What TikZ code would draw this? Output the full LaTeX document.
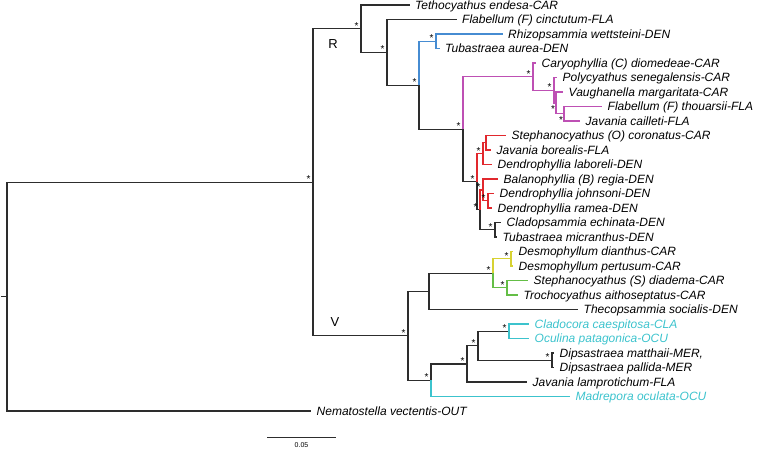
\documentclass[tikz,border=0pt]{standalone}
\usepackage{fontspec}
\setmainfont{Liberation Sans}
\usepackage{tikz}

\definecolor{cDark}{RGB}{45,45,45}
\definecolor{cBlue}{RGB}{70,140,210}
\definecolor{cMag}{RGB}{190,80,180}
\definecolor{cRed}{RGB}{225,40,45}
\definecolor{cYel}{RGB}{215,210,50}
\definecolor{cGrn}{RGB}{100,190,70}
\definecolor{cCyan}{RGB}{60,195,205}

\begin{document}
\begin{tikzpicture}[%
      x=1pt, y=-1pt,
      brk/.style={line width=1.3pt, color=cDark},
      brb/.style={brk, color=cBlue},
      brm/.style={brk, color=cMag},
      brr/.style={brk, color=cRed},
      bry/.style={brk, color=cYel},
      brg/.style={brk, color=cGrn},
      brc/.style={brk, color=cCyan},
      tip/.style={anchor=west, inner xsep=5.5pt, inner ysep=0pt, text height=8.6pt,
        text depth=0pt, font=\fontsize{12}{14}\selectfont\itshape},
      bs/.style={inner sep=0pt, font=\fontsize{10}{10}\selectfont, xshift=-4.5pt, yshift=2.9pt},
      bsb/.style={bs, xshift=1.5pt, yshift=-9.5pt},
      clade/.style={inner sep=0pt, font=\fontsize{13}{13}\selectfont},
      ]
      \useasboundingbox (0,0) rectangle (761,449);

      % tips
      \node[tip] (t1) at (409.5,5) {Tethocyathus endesa-CAR};
      \node[tip] (t2) at (456.5,19.5) {Flabellum (F) cinctutum-FLA};
      \node[tip] (t3) at (502.5,34) {Rhizopsammia wettsteini-DEN};
      \node[tip] (t4) at (439.5,48.5) {Tubastraea aurea-DEN};
      \node[tip] (t5) at (536,63) {Caryophyllia (C) diomedeae-CAR};
      \node[tip] (t6) at (557,77.5) {Polycyathus senegalensis-CAR};
      \node[tip] (t7) at (563,92) {Vaughanella margaritata-CAR};
      \node[tip] (t8) at (602,106.5) {Flabellum (F) thouarsii-FLA};
      \node[tip] (t9) at (580,121) {Javania cailleti-FLA};
      \node[tip] (t10) at (506,135.5) {Stephanocyathus (O) coronatus-CAR};
      \node[tip] (t11) at (491,150) {Javania borealis-FLA};
      \node[tip] (t12) at (492,164.5) {Dendrophyllia laboreli-DEN};
      \node[tip] (t13) at (498,179) {Balanophyllia (B) regia-DEN};
      \node[tip] (t14) at (494,193.5) {Dendrophyllia johnsoni-DEN};
      \node[tip] (t15) at (492,208) {Dendrophyllia ramea-DEN};
      \node[tip] (t16) at (501,222.5) {Cladopsammia echinata-DEN};
      \node[tip] (t17) at (497,237) {Tubastraea micranthus-DEN};
      \node[tip] (t18) at (513,251.5) {Desmophyllum dianthus-CAR};
      \node[tip] (t19) at (513,266) {Desmophyllum pertusum-CAR};
      \node[tip] (t20) at (528,280.5) {Stephanocyathus (S) diadema-CAR};
      \node[tip] (t21) at (518,295) {Trochocyathus aithoseptatus-CAR};
      \node[tip] (t22) at (578,309.5) {Thecopsammia socialis-DEN};
      \node[tip, text=cCyan] (t23) at (529,324) {Cladocora caespitosa-CLA};
      \node[tip, text=cCyan] (t24) at (529,338.5) {Oculina patagonica-OCU};
      \node[tip] (t25) at (554,353) {Dipsastraea matthaii-MER,};
      \node[tip] (t26) at (554,367.5) {Dipsastraea pallida-MER};
      \node[tip] (t27) at (527,382) {Javania lamprotichum-FLA};
      \node[tip, text=cCyan] (t28) at (570,396.5) {Madrepora oculata-OCU};
      \node[tip] (t29) at (311,411) {Nematostella vectentis-OUT};

      % internal nodes
      \coordinate (nRoot) at (7,296.6);
      \coordinate (nTick) at (1,296.6);
      \coordinate (nI) at (313,182.3);
      \coordinate (nR) at (361,28.7);
      \coordinate (nJ) at (387,52.3);
      \coordinate (nK) at (419,85.2);
      \coordinate (nBl) at (436,41.25);
      \coordinate (nL) at (463,129.2);
      \coordinate (nM) at (533,76.6);
      \coordinate (nP1) at (554,90.2);
      \coordinate (nP2) at (556,102.9);
      \coordinate (nP3) at (564,113.75);
      \coordinate (nN) at (477,181.7);
      \coordinate (nR2) at (483,153.6);
      \coordinate (nR1) at (486,142.75);
      \coordinate (nP) at (480,209.8);
      \coordinate (nR4) at (483,189.9);
      \coordinate (nR3) at (488,200.75);
      \coordinate (nQ) at (495,229.75);
      \coordinate (nV) at (408,335.8);
      \coordinate (nA) at (429,291.4);
      \coordinate (nB) at (493,273.25);
      \coordinate (nY) at (511,258.75);
      \coordinate (nG) at (507,287.75);
      \coordinate (nC) at (431,380.2);
      \coordinate (nD) at (467,363.9);
      \coordinate (nE) at (478,345.75);
      \coordinate (nF) at (509,331.25);
      \coordinate (nDp) at (552,360.25);

      % branches
      \draw[brk] (nTick) -- (nRoot);
      \draw[brk] (nRoot) |- (nI);
      \draw[brk] (nRoot) |- (t29.west);
      \draw[brk] (nI) |- (nR);
      \draw[brk] (nI) |- (nV);
      \draw[brk] (nR) |- (t1.west);
      \draw[brk] (nR) |- (nJ);
      \draw[brk] (nJ) |- (t2.west);
      \draw[brk] (nJ) |- (nK);
      \draw[brb] (nK) |- (nBl);
      \draw[brb] (nBl) |- (t3.west);
      \draw[brb] (nBl) |- (t4.west);
      \draw[brk] (nK) |- (nL);
      \draw[brm] (nL) |- (nM);
      \draw[brm] (nM) |- (t5.west);
      \draw[brm] (nM) |- (nP1);
      \draw[brm] (nP1) |- (t6.west);
      \draw[brm] (nP1) |- (nP2);
      \draw[brm] (nP2) |- (t7.west);
      \draw[brm] (nP2) |- (nP3);
      \draw[brm] (nP3) |- (t8.west);
      \draw[brm] (nP3) |- (t9.west);
      \draw[brk] (nL) |- (nN);
      \draw[brr] (nN) |- (nR2);
      \draw[brr] (nR2) |- (nR1);
      \draw[brr] (nR1) |- (t10.west);
      \draw[brr] (nR1) |- (t11.west);
      \draw[brr] (nR2) |- (t12.west);
      \draw[brk] (nN) |- (nP);
      \draw[brr] (nP) |- (nR4);
      \draw[brr] (nR4) |- (t13.west);
      \draw[brr] (nR4) |- (nR3);
      \draw[brr] (nR3) |- (t14.west);
      \draw[brr] (nR3) |- (t15.west);
      \draw[brk] (nP) |- (nQ);
      \draw[brk] (nQ) |- (t16.west);
      \draw[brk] (nQ) |- (t17.west);
      \draw[brk] (nV) |- (nA);
      \draw[brk] (nA) |- (nB);
      \draw[bry] (nB) |- (nY);
      \draw[bry] (nY) |- (t18.west);
      \draw[bry] (nY) |- (t19.west);
      \draw[brg] (nB) |- (nG);
      \draw[brg] (nG) |- (t20.west);
      \draw[brg] (nG) |- (t21.west);
      \draw[brk] (nA) |- (t22.west);
      \draw[brk] (nV) |- (nC);
      \draw[brk] (nC) |- (nD);
      \draw[brk] (nD) |- (nE);
      \draw[brk] (nE) |- (nF);
      \draw[brc] (nF) |- (t23.west);
      \draw[brc] (nF) |- (t24.west);
      \draw[brk] (nE) |- (nDp);
      \draw[brk] (nDp) |- (t25.west);
      \draw[brk] (nDp) |- (t26.west);
      \draw[brk] (nD) |- (t27.west);
      \draw[brc] (nC) |- (t28.west);

      % support stars
      \node[bs] (sI) at (nI) {*};
      \node[bs] (sR) at (nR) {*};
      \node[bs] (sJ) at (nJ) {*};
      \node[bs] (sK) at (nK) {*};
      \node[bs] (sBl) at (nBl) {*};
      \node[bs] (sL) at (nL) {*};
      \node[bs] (sM) at (nM) {*};
      \node[bs] (sP1) at (nP1) {*};
      \node[bsb] (sP2) at (nP2) {*};
      \node[bsb] (sP3) at (nP3) {*};
      \node[bs] (sN) at (nN) {*};
      \node[bs] (sR2) at (nR2) {*};
      \node[bs] (sR4) at (nR4) {*};
      \node[bs] (sR3) at (nR3) {*};
      \node[bs] (sP) at (nP) {*};
      \node[bs] (sQ) at (nQ) {*};
      \node[bs] (sV) at (nV) {*};
      \node[bs] (sB) at (nB) {*};
      \node[bs] (sY) at (nY) {*};
      \node[bs] (sG) at (nG) {*};
      \node[bs] (sC) at (nC) {*};
      \node[bs] (sD) at (nD) {*};
      \node[bs] (sE) at (nE) {*};
      \node[bs] (sF) at (nF) {*};
      \node[bs] (sDp) at (nDp) {*};

      % clade letters
      \node[clade] (labR) at (333,44) {R};
      \node[clade] (labV) at (335,322) {V};

      % scale bar
      \coordinate (sb1) at (267,437);
      \coordinate (sb2) at (336,437);
      \draw[line width=1pt, color=cDark] (sb1) -- (sb2);
      \node[inner sep=0pt, font=\fontsize{7}{7}\selectfont] (sbLab) at (301.5,445.5) {0.05};
\end{tikzpicture}
\end{document}
